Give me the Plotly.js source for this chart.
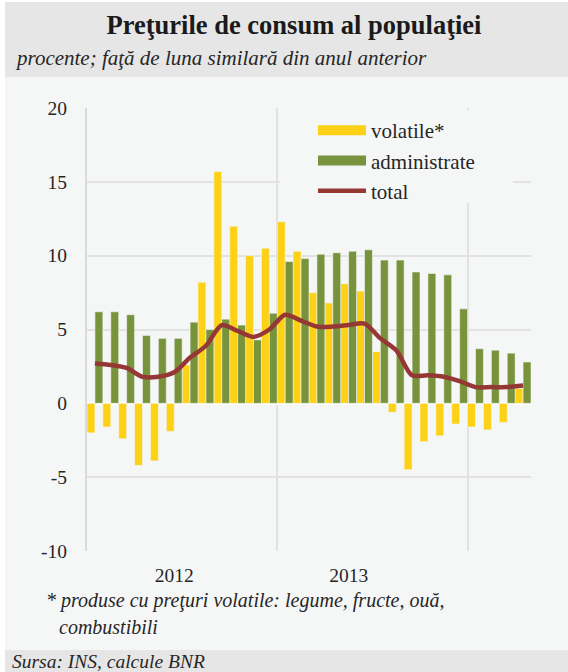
<!DOCTYPE html>
<html>
<head>
<meta charset="utf-8">
<script src="https://cdn.plot.ly/plotly-3.0.1.min.js"></script>
<style>
  html, body { margin: 0; padding: 0; background: #ffffff; }
  #chart { width: 568px; height: 672px; }
</style>
</head>
<body>
<div id="chart"></div>
<script>
// luni: ian 2012 - apr 2014
var months = ['ian 2012', 'feb 2012', 'mar 2012', 'apr 2012', 'mai 2012', 'iun 2012',
    'iul 2012', 'aug 2012', 'sep 2012', 'oct 2012', 'noi 2012', 'dec 2012',
    'ian 2013', 'feb 2013', 'mar 2013', 'apr 2013', 'mai 2013', 'iun 2013',
    'iul 2013', 'aug 2013', 'sep 2013', 'oct 2013', 'noi 2013', 'dec 2013',
    'ian 2014', 'feb 2014', 'mar 2014', 'apr 2014'];

var volatileVal = [-2.0, -1.6, -2.4, -4.2, -3.9, -1.9, 2.6, 8.2, 15.7, 12.0, 10.0, 10.5,
    12.3, 10.3, 7.5, 6.8, 8.1, 7.6, 3.5, -0.6, -4.5, -2.6, -2.2, -1.4,
    -1.6, -1.8, -1.3, 1.0];
var administrateVal = [6.2, 6.2, 6.0, 4.6, 4.4, 4.4, 5.5, 5.0, 5.7, 5.3, 4.3, 6.1,
    9.6, 9.8, 10.1, 10.2, 10.3, 10.4, 9.7, 9.7, 8.9, 8.8, 8.7, 6.4,
    3.7, 3.6, 3.4, 2.8];
var totalVal = [2.7, 2.6, 2.4, 1.8, 1.8, 2.1, 3.1, 3.9, 5.3, 4.9, 4.5, 5.0,
    6.0, 5.6, 5.2, 5.2, 5.3, 5.4, 4.4, 3.6, 1.9, 1.9, 1.8, 1.5,
    1.1, 1.1, 1.1, 1.2];

var yTickVals = [-10, -5, 0, 5, 10, 15, 20];
var yTickText = ['-10', '-5', '0', '5', '10', '15', '20'];
var yearLabels = ['2012', '2013'];
var yearLabelPos = [5.5, 16.5];
var yearBreaks = [12, 24];

var serif = 'Liberation Serif, serif';
var yellow = '#FCD116';
var green = '#77933C';
var red = '#953735';
var bg = '#F5F7F7';
var band = '#E6E6E6';
var grid = '#E2E2E2';

// pozitia fiecarei luni pe axa (mijlocul lunii)
var xPos = months.map(function (m, i) { return i + 0.5; });

function createBarObject(y, name, color) {
    return {
        x: xPos,
        y: y,
        type: 'bar',
        name: name,
        text: months,
        hoverinfo: 'text+y',
        textposition: 'none',
        showlegend: false,
        legendgroup: name,
        marker: {
            color: color,
            line: { width: 0.6, color: bg }
        }
    }
}

function createLegendObject(name, color) {
    return {
        x: [null],
        y: [null],
        mode: 'lines',
        name: name,
        legendgroup: name,
        hoverinfo: 'skip',
        line: { width: 10, color: color }
    }
}

var volatile = createBarObject(volatileVal, 'volatile*', yellow);
var administrate = createBarObject(administrateVal, 'administrate', green);
var total = {
    x: xPos,
    y: totalVal,
    mode: 'lines',
    name: 'total',
    text: months,
    hoverinfo: 'text+y',
    line: { shape: 'spline', smoothing: 0.8, width: 4.5, color: red }
};

var data = [volatile, administrate,
    createLegendObject('volatile*', yellow),
    createLegendObject('administrate', green),
    total];

// conversie pixeli -> coordonate paper (zona graficului: 87..531 x 108..551)
function px(x) { return (x - 87) / 444; }
function py(y) { return (551 - y) / 443; }

var layout = {
    width: 568,
    height: 672,
    margin: { l: 87, r: 37, t: 108, b: 121 },
    paper_bgcolor: bg,
    plot_bgcolor: bg,
    font: { family: serif, size: 20, color: '#262626' },
    title: {
        text: '<b>Preţurile de consum al populaţiei</b>',
        font: { family: serif, size: 26.5, color: '#1a1a1a' },
        x: 294 / 568,
        xanchor: 'center',
        xref: 'container',
        y: 1 - 25 / 672,
        yanchor: 'middle',
        yref: 'container'
    },
    barmode: 'group',
    bargap: 0,
    bargroupgap: 0,
    showlegend: true,
    legend: {
        x: px(313),
        xanchor: 'left',
        y: py(110),
        yanchor: 'top',
        bgcolor: 'rgba(0,0,0,0)',
        borderwidth: 0,
        itemwidth: 48,
        tracegroupgap: 0,
        font: { family: serif, size: 21, color: '#262626' }
    },
    xaxis: {
        range: [0, 28],
        tickvals: yearLabelPos,
        ticktext: yearLabels,
        ticks: '',
        showgrid: false,
        zeroline: false,
        showline: false,
        ticklabelstandoff: 10,
        tickfont: { family: serif, size: 19.5, color: '#262626' },
        minor: {
            tickvals: yearBreaks,
            showgrid: true,
            gridcolor: grid,
            gridwidth: 2
        },
        fixedrange: true
    },
    yaxis: {
        range: [-10, 20],
        tickvals: yTickVals,
        ticktext: yTickText,
        ticks: '',
        showgrid: true,
        gridcolor: grid,
        gridwidth: 2,
        zeroline: true,
        zerolinecolor: '#ffffff',
        zerolinewidth: 2.5,
        showline: true,
        linecolor: '#DADADA',
        linewidth: 2,
        ticklabelstandoff: 14,
        tickfont: { family: serif, size: 19.5, color: '#262626' },
        fixedrange: true
    },
    shapes: [
        // banda de titlu
        { type: 'rect', xref: 'paper', yref: 'paper', layer: 'below',
          x0: px(5), x1: px(568), y0: py(77), y1: py(2),
          fillcolor: band, line: { width: 0 } },
        // banda de sursa
        { type: 'rect', xref: 'paper', yref: 'paper', layer: 'below',
          x0: px(5), x1: px(568), y0: py(672), y1: py(650),
          fillcolor: band, line: { width: 0 } },
        // margine alba stanga / sus
        { type: 'rect', xref: 'paper', yref: 'paper', layer: 'below',
          x0: px(0), x1: px(5), y0: py(672), y1: py(0),
          fillcolor: '#ffffff', line: { width: 0 } },
        { type: 'rect', xref: 'paper', yref: 'paper', layer: 'below',
          x0: px(0), x1: px(568), y0: py(2), y1: py(0),
          fillcolor: '#ffffff', line: { width: 0 } },
        // fundalul legendei acopera grila
        { type: 'rect', xref: 'paper', yref: 'paper', layer: 'above',
          x0: px(280), x1: px(513), y0: py(203), y1: py(110),
          fillcolor: bg, line: { width: 0 } }
    ],
    annotations: [
        { text: '<i>procente; faţă de luna similară din anul anterior</i>',
          xref: 'paper', yref: 'paper', x: px(13), y: py(58),
          xanchor: 'left', yanchor: 'middle', showarrow: false,
          font: { family: serif, size: 21, color: '#262626' } },
        { text: '<i>* produse cu preţuri volatile: legume, fructe, ouă,</i>',
          xref: 'paper', yref: 'paper', x: px(44), y: py(600),
          xanchor: 'left', yanchor: 'middle', showarrow: false,
          font: { family: serif, size: 20, color: '#262626' } },
        { text: '<i>combustibili</i>',
          xref: 'paper', yref: 'paper', x: px(57), y: py(627),
          xanchor: 'left', yanchor: 'middle', showarrow: false,
          font: { family: serif, size: 20, color: '#262626' } },
        { text: '<i>Sursa: INS, calcule BNR</i>',
          xref: 'paper', yref: 'paper', x: px(10), y: py(661),
          xanchor: 'left', yanchor: 'middle', showarrow: false,
          font: { family: serif, size: 19.5, color: '#262626' } }
    ]
};

Plotly.newPlot('chart', data, layout, {
    displayModeBar: false,
    staticPlot: true
});
</script>
</body>
</html>
